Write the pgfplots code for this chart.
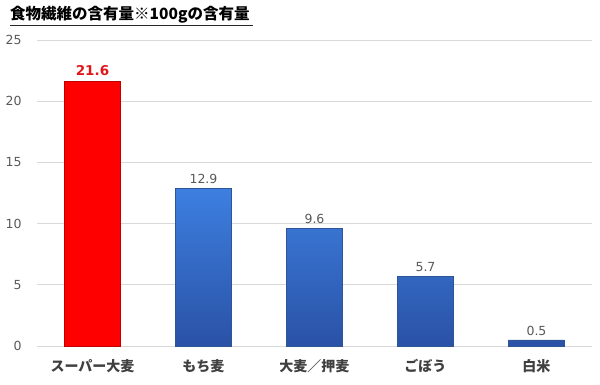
\documentclass[border=0pt]{standalone}
\usepackage{pgfplots}
\pgfplotsset{compat=1.18}
\usepackage{fontspec}
\setmainfont{Noto Sans CJK JP}
\newfontfamily\numf{DejaVu Sans}
\definecolor{gridc}{HTML}{D9D9D9}
\definecolor{tickc}{HTML}{595959}
\definecolor{labc}{HTML}{404040}
\definecolor{bluetop}{HTML}{3D7FE0}
\definecolor{bluebot}{HTML}{2A52A6}
\definecolor{blueedge}{HTML}{2F5597}
\definecolor{redb}{HTML}{FF0000}
\definecolor{redtxt}{HTML}{E0161B}
\begin{document}
\begin{tikzpicture}[x=1pt,y=1pt]
\useasboundingbox (0,0) rectangle (600,385);
\node[anchor=west,inner sep=0pt] (t) at (10,370) {\fontsize{15.5}{15.5}\selectfont\bfseries 食物繊維の含有量※100gの含有量};
\draw[line width=1.4pt, black!85] (t.south west) ++(0,-1.5) -- ++(243,0);
\begin{axis}[
  at={(37pt,39pt)}, anchor=south west,
  scale only axis, width=555pt, height=306pt,
  xmin=-0.5, xmax=4.5, ymin=0, ymax=25,
  xtick={0,1,2,3,4},
  xticklabels={スーパー大麦,もち麦,大麦／押麦,ごぼう,白米},
  ytick={0,5,10,15,20,25},
  axis line style={draw=none},
  ymajorgrids, grid style={gridc, line width=0.8pt},
  major tick length=0pt,
  tick label style={font=\fontsize{13}{13}\selectfont},
  yticklabel style={text=tickc, font=\numf\fontsize{12.5}{12.5}\selectfont, anchor=east, xshift=-12pt},
  xticklabel style={text=labc, font=\fontsize{14}{14}\selectfont\bfseries, yshift=-10pt},
  /pgf/number format/assume math mode=true,
  clip=false,
]
\addplot[ybar, bar width=56pt, bar shift=0pt, fill=redb, draw=red!75!black, line width=0.6pt,
  nodes near coords, nodes near coords style={text=redtxt, font=\numf\fontsize{13.5}{13.5}\selectfont\bfseries, yshift=2pt},
  point meta=explicit symbolic]
  coordinates {(0,21.6)[21.6]};
\addplot[ybar, bar width=56pt, bar shift=0pt, top color=bluetop, bottom color=bluebot, draw=blueedge, line width=0.6pt,
  nodes near coords, nodes near coords style={text=tickc, font=\numf\fontsize{12.5}{12.5}\selectfont, yshift=1pt},
  point meta=explicit symbolic]
  coordinates {(1,12.9)[12.9] (2,9.6)[9.6] (3,5.7)[5.7] (4,0.5)[0.5]};
\end{axis}
\end{tikzpicture}
\end{document}
